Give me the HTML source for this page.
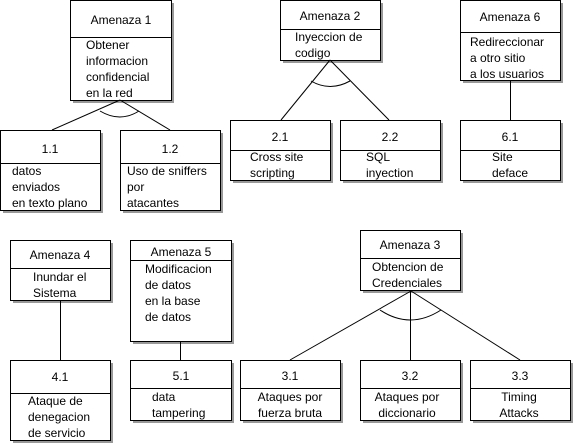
<!DOCTYPE html>
<html><head><meta charset="utf-8"><style>
body{margin:0;background:#fff}
svg{display:block}
text{font-family:"Liberation Sans",Arial,sans-serif;font-size:12px;fill:#000}
</style></head><body>
<svg width="575" height="445" viewBox="0 0 575 445" xmlns="http://www.w3.org/2000/svg">
<g fill="#999">
<rect x="73" y="3" width="101" height="100"/>
<rect x="3" y="133" width="100" height="80"/>
<rect x="123" y="133" width="100" height="80"/>
<rect x="283" y="3" width="100" height="60"/>
<rect x="233" y="123" width="100" height="60"/>
<rect x="343" y="123" width="100" height="60"/>
<rect x="463" y="3" width="100" height="80"/>
<rect x="463" y="123" width="100" height="60"/>
<rect x="13" y="243" width="100" height="60"/>
<rect x="13" y="363" width="100" height="80"/>
<rect x="133" y="243" width="101" height="101"/>
<rect x="133" y="363" width="101" height="60"/>
<rect x="363" y="233" width="100" height="60"/>
<rect x="243" y="363" width="100" height="60"/>
<rect x="363" y="363" width="100" height="60"/>
<rect x="473" y="363" width="100" height="60"/>
</g>
<g fill="#fff" stroke="#000" stroke-width="1">
<rect x="70.5" y="0.5" width="101" height="100"/>
<rect x="0.5" y="130.5" width="100" height="80"/>
<rect x="120.5" y="130.5" width="100" height="80"/>
<rect x="280.5" y="0.5" width="100" height="60"/>
<rect x="230.5" y="120.5" width="100" height="60"/>
<rect x="340.5" y="120.5" width="100" height="60"/>
<rect x="460.5" y="0.5" width="100" height="80"/>
<rect x="460.5" y="120.5" width="100" height="60"/>
<rect x="10.5" y="240.5" width="100" height="60"/>
<rect x="10.5" y="360.5" width="100" height="80"/>
<rect x="130.5" y="240.5" width="101" height="101"/>
<rect x="130.5" y="360.5" width="101" height="60"/>
<rect x="360.5" y="230.5" width="100" height="60"/>
<rect x="240.5" y="360.5" width="100" height="60"/>
<rect x="360.5" y="360.5" width="100" height="60"/>
<rect x="470.5" y="360.5" width="100" height="60"/>
</g>
<g stroke="#000" stroke-width="1" fill="none">
<line x1="70" y1="37.5" x2="171" y2="37.5"/>
<line x1="0" y1="163.5" x2="100" y2="163.5"/>
<line x1="120" y1="163.5" x2="220" y2="163.5"/>
<line x1="280" y1="29.5" x2="380" y2="29.5"/>
<line x1="230" y1="150.5" x2="330" y2="150.5"/>
<line x1="340" y1="150.5" x2="440" y2="150.5"/>
<line x1="460" y1="32.5" x2="560" y2="32.5"/>
<line x1="460" y1="150.5" x2="560" y2="150.5"/>
<line x1="10" y1="268.5" x2="110" y2="268.5"/>
<line x1="10" y1="393.5" x2="110" y2="393.5"/>
<line x1="130" y1="260.5" x2="231" y2="260.5"/>
<line x1="130" y1="388.5" x2="231" y2="388.5"/>
<line x1="360" y1="258.5" x2="460" y2="258.5"/>
<line x1="240" y1="388.5" x2="340" y2="388.5"/>
<line x1="360" y1="388.5" x2="460" y2="388.5"/>
<line x1="470" y1="388.5" x2="570" y2="388.5"/>
<line x1="120" y1="100" x2="52" y2="130"/>
<line x1="120" y1="100" x2="170" y2="130"/>
<path d="M100 111 Q120 123 139 111"/>
<line x1="330" y1="60" x2="281" y2="120"/>
<line x1="330" y1="60" x2="389" y2="120"/>
<path d="M311 81 Q330 92 350 81"/>
<line x1="510.5" y1="80" x2="510.5" y2="120"/>
<line x1="60.5" y1="300" x2="60.5" y2="360"/>
<line x1="180.5" y1="341" x2="180.5" y2="360"/>
<line x1="411" y1="291" x2="290" y2="360"/>
<line x1="410.5" y1="291" x2="410.5" y2="360"/>
<line x1="411" y1="291" x2="520" y2="360"/>
<path d="M380 310 Q410 330 441 310"/>
</g>
<g>
<text x="121" y="24" text-anchor="middle">Amenaza 1</text>
<text x="86" y="49">Obtener</text>
<text x="86" y="65">informacion</text>
<text x="86" y="81">confidencial</text>
<text x="86" y="97">en la red</text>
<text x="50" y="153" text-anchor="middle">1.1</text>
<text x="12" y="175">datos</text>
<text x="12" y="191">enviados</text>
<text x="12" y="207">en texto plano</text>
<text x="170" y="153" text-anchor="middle">1.2</text>
<text x="127" y="175">Uso de sniffers</text>
<text x="127" y="191">por</text>
<text x="127" y="207">atacantes</text>
<text x="330" y="20" text-anchor="middle">Amenaza 2</text>
<text x="295" y="41">Inyeccion de</text>
<text x="295" y="57">codigo</text>
<text x="280" y="141" text-anchor="middle">2.1</text>
<text x="250" y="161">Cross site</text>
<text x="250" y="177">scripting</text>
<text x="390" y="141" text-anchor="middle">2.2</text>
<text x="366" y="161">SQL</text>
<text x="366" y="177">inyection</text>
<text x="510" y="21" text-anchor="middle">Amenaza 6</text>
<text x="470" y="46">Redireccionar</text>
<text x="470" y="62">a otro sitio</text>
<text x="470" y="78">a los usuarios</text>
<text x="510" y="141" text-anchor="middle">6.1</text>
<text x="492" y="161">Site</text>
<text x="492" y="177">deface</text>
<text x="60" y="259" text-anchor="middle">Amenaza 4</text>
<text x="33" y="281">Inundar el</text>
<text x="33" y="297">Sistema</text>
<text x="60" y="381" text-anchor="middle">4.1</text>
<text x="28" y="405">Ataque de</text>
<text x="28" y="421">denegacion</text>
<text x="28" y="437">de servicio</text>
<text x="181" y="256" text-anchor="middle">Amenaza 5</text>
<text x="145" y="273">Modificacion</text>
<text x="145" y="289">de datos</text>
<text x="145" y="305">en la base</text>
<text x="145" y="321">de datos</text>
<text x="181" y="380" text-anchor="middle">5.1</text>
<text x="152" y="401">data</text>
<text x="152" y="417">tampering</text>
<text x="410" y="249" text-anchor="middle">Amenaza 3</text>
<text x="372" y="271">Obtencion de</text>
<text x="372" y="287">Credenciales</text>
<text x="290" y="380" text-anchor="middle">3.1</text>
<text x="290" y="401" text-anchor="middle">Ataques por</text>
<text x="290" y="417" text-anchor="middle">fuerza bruta</text>
<text x="410" y="380" text-anchor="middle">3.2</text>
<text x="407" y="401" text-anchor="middle">Ataques por</text>
<text x="407" y="417" text-anchor="middle">diccionario</text>
<text x="520" y="380" text-anchor="middle">3.3</text>
<text x="519" y="401" text-anchor="middle">Timing</text>
<text x="519" y="417" text-anchor="middle">Attacks</text>
</g>
</svg>
</body></html>
